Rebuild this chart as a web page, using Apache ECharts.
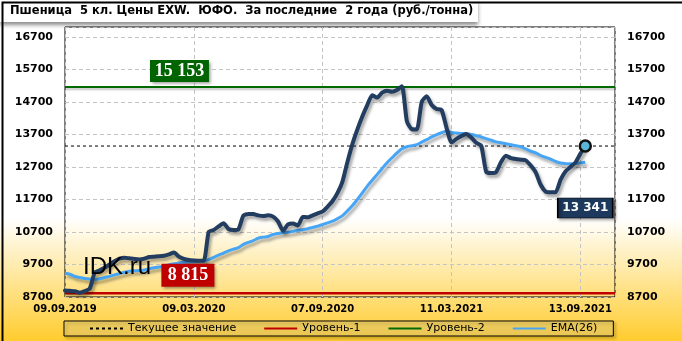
<!DOCTYPE html>
<html><head><meta charset="utf-8">
<script src="https://cdn.jsdelivr.net/npm/echarts@6/dist/echarts.min.js"></script>
<style>html,body{margin:0;padding:0;background:#fff}#c{width:682px;height:341px}</style>
</head><body><div id="c"></div>
<script>
const titleText = 'Пшеница  5 кл. Цены EXW.  ЮФО.  За последние  2 года (руб./тонна)';
const tickLabels = ['09.09.2019', '09.03.2020', '07.09.2020', '11.03.2021', '13.09.2021'];
const labelStep = 26;
const xMax = 111;
const price = [
  8900, 8890, 8880, 8830, 8880, 8960, 9450, 9520, 9600, 9700,
  9800, 9880, 9910, 9890, 9870, 9855, 9880, 9930, 9940, 9950,
  9970, 10010, 10070, 9940, 9870, 9835, 9820, 9815, 9811, 10700,
  10758, 10870, 10965, 10790, 10758, 10780, 11200, 11252, 11250, 11210,
  11190, 11210, 11170, 11020, 10740, 10930, 10960, 10900, 11160, 11150,
  11210, 11270, 11330, 11480, 11650, 11900, 12250, 12850, 13400, 13850,
  14250, 14600, 14900, 14830, 14980, 15040, 15010, 15060, 15180, 14100,
  13860, 13850, 14700, 14870, 14600, 14480, 14450, 13900, 13450, 13560,
  13650, 13710, 13600, 13440, 13350, 12550, 12510, 12540, 12850, 13040,
  12970, 12940, 12920, 12900, 12740, 12530, 12150, 11940, 11920, 11920,
  12300, 12560, 12700, 12830, 13100, 13341
];
const ema = [
  9430, 9400, 9330, 9300, 9270, 9250, 9240, 9260, 9300, 9335,
  9380, 9420, 9460, 9490, 9505, 9515, 9530, 9570, 9600, 9625,
  9650, 9690, 9720, 9745, 9765, 9775, 9780, 9795, 9808, 9850,
  9920, 9987, 10050, 10120, 10170, 10220, 10320, 10380, 10430, 10510,
  10540, 10560, 10620, 10650, 10680, 10690, 10720, 10750, 10770, 10800,
  10840, 10880, 10930, 10980, 11030, 11110, 11200, 11350, 11510, 11700,
  11900, 12110, 12290, 12470, 12650, 12830, 12980, 13130, 13260, 13320,
  13350, 13382, 13460, 13536, 13620, 13690, 13750, 13792, 13760, 13743,
  13730, 13720, 13700, 13660, 13620, 13570, 13520, 13470, 13440, 13410,
  13380, 13350, 13320, 13250, 13180, 13130, 13050, 12990, 12940, 12870,
  12817, 12800, 12795, 12800, 12820, 12845
];
const level1 = 8815;
const level2 = 15153;
const yMin = 8700, yMax = 17000, yStep = 1000;

const fmtNum = v => String(v).replace(/\B(?=(\d{3})+(?!\d))/g, ' ');
const lastIdx = price.length - 1;
const lastVal = price[lastIdx];

const chart = echarts.init(document.getElementById('c'));
const axisFont = {fontFamily: 'DejaVu Sans', fontWeight: 'bold', fontSize: 11, color: '#000'};
const yLabelFmt = v => ((v - yMin) % yStep === 0 && v < yMax) ? String(v) : '';
const shadow = {shadowColor: 'rgba(0,0,0,0.35)', shadowBlur: 3, shadowOffsetX: 2, shadowOffsetY: 3};

chart.setOption({
  animation: false,
  backgroundColor: {type: 'linear', x: 0, y: 0, x2: 0, y2: 1,
    colorStops: [{offset: 0, color: '#ffffff'}, {offset: 0.64, color: '#ffffff'}, {offset: 1, color: '#ffcc2e'}]},
  grid: {left: 65, right: 67, top: 27, bottom: 44, show: true, borderColor: '#000', borderWidth: 1, backgroundColor: 'transparent'},
  xAxis: {
    type: 'value', min: 0, max: xMax, interval: labelStep,
    axisLine: {show: false}, axisTick: {show: false},
    axisLabel: {margin: 7, showMaxLabel: false, fontSize: 10, fontFamily: 'DejaVu Sans', fontWeight: 'bold', color: '#000',
      formatter: v => (v % labelStep === 0 && tickLabels[v / labelStep]) ? tickLabels[v / labelStep] : ''},
    splitLine: {show: true, lineStyle: {color: '#c4c4c4', type: [4, 3], width: 1}}
  },
  yAxis: [
    {type: 'value', min: yMin, max: yMax, interval: yStep, position: 'left',
      axisLine: {show: false}, axisTick: {show: false},
      axisLabel: Object.assign({margin: 12, formatter: yLabelFmt}, axisFont),
      splitLine: {show: true, lineStyle: {color: '#c4c4c4', type: [4, 3], width: 1}}},
    {type: 'value', min: yMin, max: yMax, interval: yStep, position: 'right',
      axisLine: {show: false}, axisTick: {show: false},
      axisLabel: Object.assign({margin: 12, formatter: yLabelFmt}, axisFont),
      splitLine: {show: false}}
  ],
  legend: {
    left: 64, top: 321, itemWidth: 33, itemHeight: 10, itemGap: 27,
    padding: [2, 16, 2, 25],
    itemStyle: {opacity: 0},
    borderColor: '#000', borderWidth: 1, backgroundColor: 'rgba(255,236,150,0.35)',
    shadowColor: 'rgba(0,0,0,0.35)', shadowBlur: 3, shadowOffsetX: 2, shadowOffsetY: 2,
    textStyle: {fontFamily: 'DejaVu Sans', fontSize: 11, color: '#000'},
    data: ['Текущее значение', 'Уровень-1', 'Уровень-2', 'EMA(26)']
  },
  graphic: [
    {type: 'rect', left: 0, top: 0, z: 10, shape: {width: 478, height: 22},
      style: {fill: '#fff', shadowColor: 'rgba(0,0,0,0.45)', shadowBlur: 4, shadowOffsetY: 3}},
    {type: 'text', left: 10, top: 5, z: 11,
      style: {text: titleText, font: 'bold 11.5px "DejaVu Sans"', fill: '#000'}},
    {type: 'text', left: 83, top: 255, z: 20,
      style: {text: 'IDK.ru', font: '24px "Liberation Sans"', fill: '#000'}},
    {type: 'rect', left: 0, top: 0, z: 30, silent: true, shape: {width: 681, height: 340},
      style: {fill: 'none', stroke: '#000', lineWidth: 2}}
  ],
  series: [
    {name: 'Уровень-1', type: 'line', symbol: 'none', z: 3,
      data: [[0, level1], [xMax, level1]],
      lineStyle: {color: '#c00000', width: 2.5}, itemStyle: {color: '#c00000'},
      markPoint: {symbol: 'rect', symbolSize: [53, 23], z: 8,
        data: [{coord: [24.8, level1], symbolOffset: [0, -18]}],
        itemStyle: {color: '#c00000', shadowColor: 'rgba(0,0,0,0.4)', shadowBlur: 3, shadowOffsetX: 2, shadowOffsetY: 2},
        label: {show: true, position: 'inside', formatter: () => fmtNum(level1), color: '#fff', fontFamily: 'Liberation Serif', fontWeight: 'bold', fontSize: 18}}},
    {name: 'Уровень-2', type: 'line', symbol: 'none', z: 3,
      data: [[0, level2], [xMax, level2]],
      lineStyle: {color: '#006a00', width: 2, shadowColor: 'rgba(0,0,0,0.25)', shadowBlur: 2, shadowOffsetY: 2},
      itemStyle: {color: '#006a00'},
      markPoint: {symbol: 'rect', symbolSize: [59, 22], z: 8,
        data: [{coord: [23.1, level2], symbolOffset: [0, -16]}],
        itemStyle: {color: '#006400', shadowColor: 'rgba(0,0,0,0.4)', shadowBlur: 3, shadowOffsetX: 2, shadowOffsetY: 2},
        label: {show: true, position: 'inside', formatter: () => fmtNum(level2), color: '#fff', fontFamily: 'Liberation Serif', fontWeight: 'bold', fontSize: 18}}},
    {name: 'Текущее значение', type: 'line', symbol: 'none', z: 4,
      data: [[0, lastVal], [xMax, lastVal]],
      lineStyle: {color: '#000', width: 1, type: [3, 3]}, itemStyle: {color: '#000'}},
    {name: 'EMA(26)', type: 'line', symbol: 'none', z: 5, smooth: 0.3,
      data: ema.map((v, i) => [i, v]),
      lineStyle: Object.assign({color: '#46a5f5', width: 3}, shadow), itemStyle: {color: '#46a5f5'}},
    {name: 'Цена', type: 'line', symbol: 'none', z: 6, smooth: 0.2,
      data: price.map((v, i) => [i, v]),
      lineStyle: Object.assign({color: '#223d60', width: 4, join: 'round', cap: 'round'}, shadow), itemStyle: {color: '#223d60'},
      markPoint: {z: 9, data: [
        {coord: [lastIdx, lastVal], symbol: 'circle', symbolSize: 11,
          itemStyle: {color: '#5ab6d6', borderColor: '#111', borderWidth: 2.5}, label: {show: false}},
        {coord: [lastIdx, lastVal], symbol: 'rect', symbolSize: [55, 20], symbolOffset: [0, 62],
          itemStyle: {color: '#1d3a5e', borderColor: '#000', borderWidth: 1, shadowColor: 'rgba(0,0,0,0.4)', shadowBlur: 3, shadowOffsetX: 2, shadowOffsetY: 2},
          label: {show: true, position: 'inside', formatter: () => fmtNum(lastVal), color: '#fff', fontFamily: 'DejaVu Sans', fontWeight: 'bold', fontSize: 12}}
      ]}}
  ]
});
</script></body></html>
